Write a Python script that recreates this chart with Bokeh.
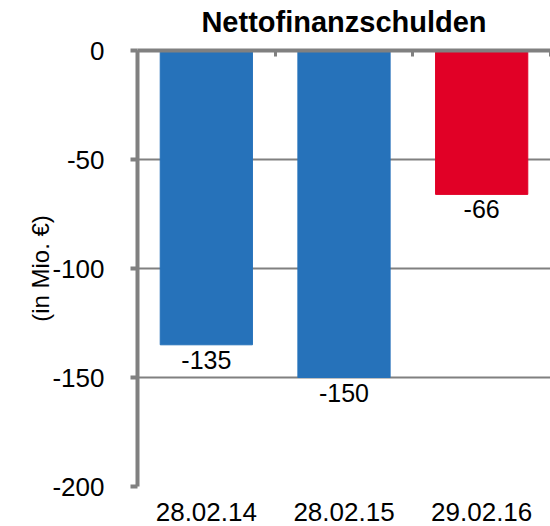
from bokeh.plotting import figure
from bokeh.models import (Range1d, FixedTicker, LinearAxis, ColumnDataSource, LabelSet,
                          CustomLabelingPolicy)
from bokeh.core.properties import value
from bokeh.embed import file_html
from bokeh.resources import INLINE

# ---- data ----
categories = ["28.02.14", "28.02.15", "29.02.16"]
values = [-135, -150, -66]
bar_colors = ["#2672BA", "#2672BA", "#E10026"]
y_ticks = [-200, -150, -100, -50, 0]
title_text = "Nettofinanzschulden"
y_label = "(in Mio. €)"

FONT = "Liberation Sans"
GRAY = "#808080"

positions = [i + 0.5 for i in range(len(categories))]
boundaries = list(range(len(categories) + 1))

src = ColumnDataSource(dict(
    x=positions,
    top=[0] * len(values),
    bottom=values,
    color=bar_colors,
    label=[str(v) for v in values],
))

p = figure(width=550, height=526, output_backend="svg", toolbar_location=None,
           x_range=Range1d(0, len(categories)), y_range=Range1d(min(y_ticks), max(y_ticks)),
           title=title_text)

p.min_border_left = 137
p.min_border_right = 0
p.min_border_bottom = 40
p.min_border_top = 50
p.outline_line_color = None

# title
p.title.text_font = FONT
p.title.text_font_size = "29px"
p.title.text_font_style = "bold"
p.title.align = "center"
p.title.standoff = 4
p.title.text_color = "#000000"

# bottom axis: labels only
xa = p.xaxis[0]
xa.ticker = FixedTicker(ticks=positions)
xa.major_label_overrides = {pos: cat for pos, cat in zip(positions, categories)}
xa.axis_line_color = None
xa.major_tick_line_color = None
xa.minor_tick_line_color = None
xa.major_label_standoff = 10
xa.major_label_text_font = FONT
xa.major_label_text_font_size = "26px"
xa.major_label_text_color = "#000000"

# top axis at zero line with category-boundary ticks pointing down (no labels)
top_axis = LinearAxis(ticker=FixedTicker(ticks=boundaries))
top_axis.axis_line_color = GRAY
top_axis.axis_line_width = 4
top_axis.major_tick_line_color = GRAY
top_axis.major_tick_line_width = 3
top_axis.major_tick_in = 6
top_axis.major_tick_out = 0
top_axis.minor_tick_line_color = None
top_axis.major_label_standoff = 0
top_axis.major_label_policy = CustomLabelingPolicy(code="""
    const r = indices.clone()
    for (const i of indices) r.unset(i)
    return r
""")
p.add_layout(top_axis, "above")

# left axis
ya = p.yaxis[0]
ya.ticker = FixedTicker(ticks=y_ticks)
ya.major_label_overrides = {t: str(t) for t in y_ticks}
ya.axis_line_color = GRAY
ya.axis_line_width = 4
ya.major_tick_line_color = GRAY
ya.major_tick_line_width = 4
ya.major_tick_out = 7
ya.major_tick_in = 0
ya.minor_tick_line_color = None
ya.major_label_text_font = FONT
ya.major_label_text_font_size = "26px"
ya.major_label_text_color = "#000000"
ya.major_label_standoff = 26
ya.axis_label = y_label
ya.axis_label_text_font = FONT
ya.axis_label_text_font_size = "24px"
ya.axis_label_text_font_style = "normal"
ya.axis_label_text_color = "#000000"
ya.axis_label_standoff = -5

# grid
p.xgrid.visible = False
p.ygrid.ticker = FixedTicker(ticks=y_ticks)
p.ygrid.grid_line_color = GRAY
p.ygrid.grid_line_width = 2

# bars
p.vbar(x="x", top="top", bottom="bottom", width=0.67, color="color", source=src)

labels = LabelSet(x="x", y="bottom", text="label", source=src, y_offset=-6,
                  text_align="center", text_baseline="top",
                  text_font=value(FONT), text_font_size=value("25px"), text_color="#000000")
p.add_layout(labels)

open("out.html", "w").write(file_html(p, INLINE))
